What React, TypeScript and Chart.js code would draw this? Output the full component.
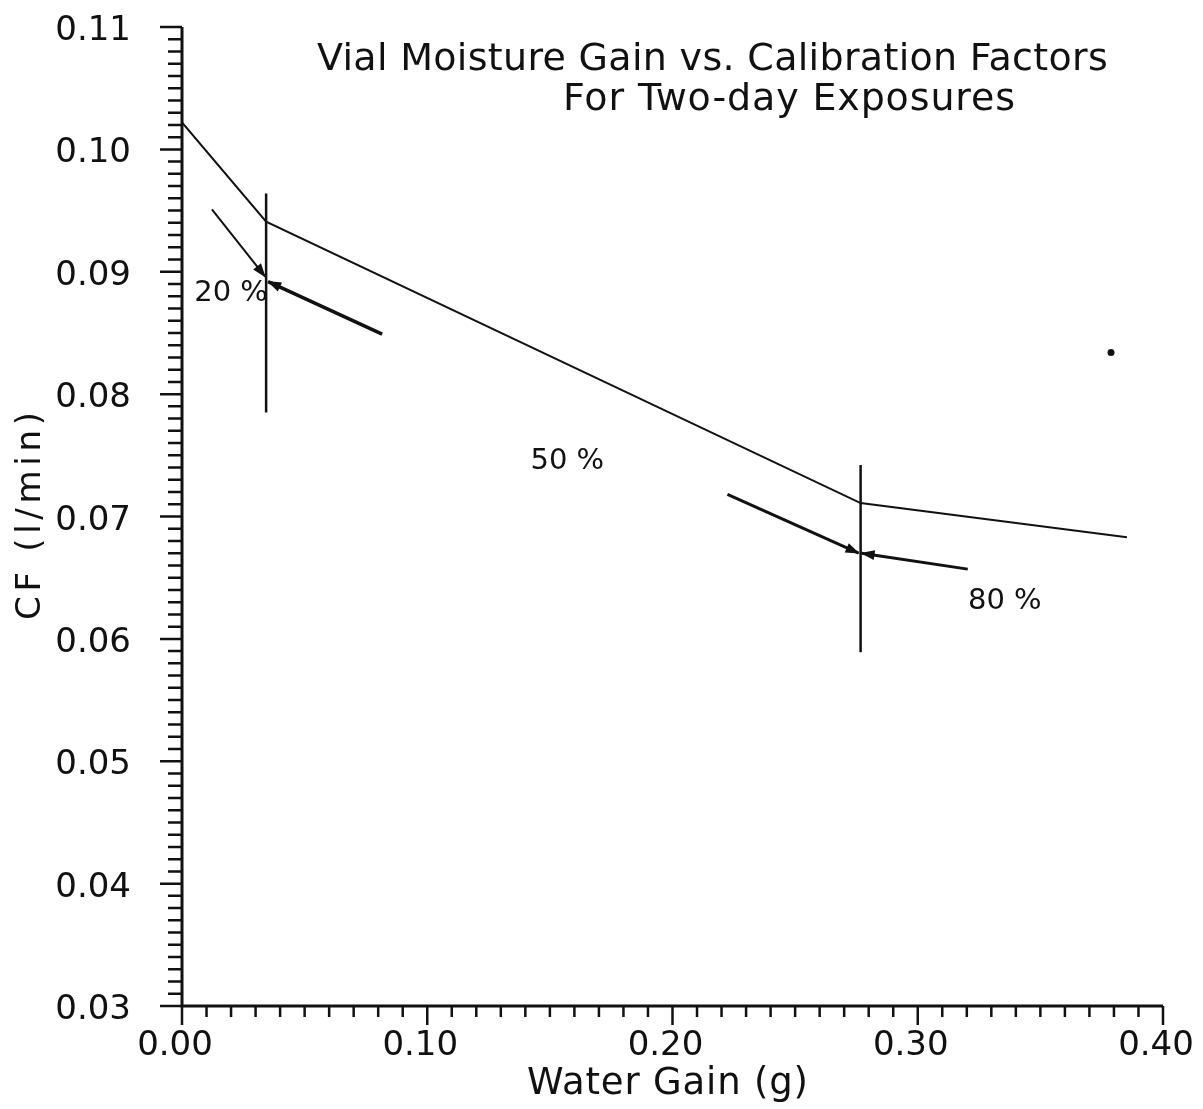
import React, { useEffect, useRef } from "react";
import { Chart, registerables } from "chart.js";

Chart.register(...registerables);

// ---- data ----
const curveX = [0, 0.0343, 0.2767, 0.3853];
const curveY = [0.1022, 0.0941, 0.0711, 0.0683];

const errBarX = [0.0343, 0.2767];
const errBarLow = [0.0785, 0.0589];
const errBarHigh = [0.0964, 0.0742];

const arrowFromX = [0.0122, 0.0816, 0.2224, 0.3204];
const arrowFromY = [0.0951, 0.0849, 0.0718, 0.0657];
const arrowToX = [0.0339, 0.0351, 0.2759, 0.2771];
const arrowToY = [0.0896, 0.0892, 0.067, 0.067];

const rhLabels = ["20 %", "50 %", "80 %"];
const rhLabelX = [0.02, 0.1571, 0.3355];
const rhLabelY = [0.0885, 0.0747, 0.0633];

const dotX = [0.3788];
const dotY = [0.0834];

const xTickValues = [0, 0.1, 0.2, 0.3, 0.4];
const xTickLabels = ["0.00", "0.10", "0.20", "0.30", "0.40"];
const yTickValues = [0.03, 0.04, 0.05, 0.06, 0.07, 0.08, 0.09, 0.1, 0.11];
const yTickLabels = ["0.03", "0.04", "0.05", "0.06", "0.07", "0.08", "0.09", "0.10", "0.11"];

const titleLines = ["Vial Moisture Gain vs. Calibration Factors", "For Two-day Exposures"];
const xTitle = "Water Gain (g)";
const yTitle = "CF (l/min)";

// ---- styles ----
const INK = "#111";
const FONT = '"DejaVu Sans", sans-serif';
const arrowLineWidths = [2, 3.5, 3, 3];

function drawSpaced(ctx: CanvasRenderingContext2D, text: string, x: number, y: number, targetWidth: number) {
  ctx.save();
  const w = ctx.measureText(text).width;
  const n = Math.max(1, text.length - 1);
  const sp = (targetWidth - w) / n;
  (ctx as any).letterSpacing = sp.toFixed(2) + "px";
  ctx.textAlign = "left";
  ctx.fillText(text, x, y);
  ctx.restore();
}

const decorPlugin = {
  id: "decor",
  afterDatasetsDraw(chart: any) {
    const ctx: CanvasRenderingContext2D = chart.ctx;
    const xs = chart.scales.x;
    const ys = chart.scales.y;
    ctx.save();
    ctx.fillStyle = INK;
    for (let i = 0; i < arrowFromX.length; i++) {
      const x0 = xs.getPixelForValue(arrowFromX[i]);
      const y0 = ys.getPixelForValue(arrowFromY[i]);
      const x1 = xs.getPixelForValue(arrowToX[i]);
      const y1 = ys.getPixelForValue(arrowToY[i]);
      const a = Math.atan2(y1 - y0, x1 - x0);
      const L = 13;
      const W = 5;
      const c = Math.cos(a);
      const s = Math.sin(a);
      ctx.beginPath();
      ctx.moveTo(x1 + c * 1, y1 + s * 1);
      ctx.lineTo(x1 - L * c + W * s, y1 - L * s - W * c);
      ctx.lineTo(x1 - L * c - W * s, y1 - L * s + W * c);
      ctx.closePath();
      ctx.fill();
    }
    // labels
    ctx.font = `29px ${FONT}`;
    ctx.textAlign = "center";
    ctx.textBaseline = "alphabetic";
    for (let i = 0; i < rhLabels.length; i++) {
      const px = xs.getPixelForValue(rhLabelX[i]);
      const py = ys.getPixelForValue(rhLabelY[i]);
      ctx.fillText(rhLabels[i], px, py + 10.5);
    }
    ctx.restore();
  },
  afterDraw(chart: any) {
    const ctx: CanvasRenderingContext2D = chart.ctx;
    const xs = chart.scales.x;
    const ys = chart.scales.y;
    const ca = chart.chartArea;
    ctx.save();
    ctx.strokeStyle = INK;
    ctx.fillStyle = INK;
    ctx.lineCap = "butt";
    // axis lines
    ctx.lineWidth = 3;
    ctx.beginPath();
    ctx.moveTo(ca.left, ca.top);
    ctx.lineTo(ca.left, ca.bottom + 1.5);
    ctx.moveTo(ca.left - 1.5, ca.bottom);
    ctx.lineTo(ca.right, ca.bottom);
    ctx.stroke();
    // y ticks
    ctx.lineWidth = 2.5;
    ctx.beginPath();
    for (let i = 30; i <= 110; i++) {
      const py = ys.getPixelForValue(i / 1000);
      const len = i % 10 === 0 ? 22 : 14;
      ctx.moveTo(ca.left - len, py);
      ctx.lineTo(ca.left, py);
    }
    // x ticks
    for (let i = 0; i <= 40; i++) {
      const px = xs.getPixelForValue(i / 100);
      const len = i % 10 === 0 ? 19 : 11;
      ctx.moveTo(px, ca.bottom);
      ctx.lineTo(px, ca.bottom + len);
    }
    ctx.stroke();
    // tick labels
    ctx.font = `34px ${FONT}`;
    ctx.textBaseline = "alphabetic";
    ctx.textAlign = "right";
    for (let i = 0; i < yTickValues.length; i++) {
      const py = ys.getPixelForValue(yTickValues[i]);
      ctx.fillText(yTickLabels[i], ca.left - 51, py + 13);
    }
    ctx.textAlign = "center";
    for (let i = 0; i < xTickValues.length; i++) {
      const px = xs.getPixelForValue(xTickValues[i]);
      ctx.fillText(xTickLabels[i], px - 7, ca.bottom + 49);
    }
    // title
    ctx.font = `38px ${FONT}`;
    drawSpaced(ctx, titleLines[0], 317, 70, 791);
    drawSpaced(ctx, titleLines[1], 563, 110, 452);
    // x title
    ctx.font = `37px ${FONT}`;
    drawSpaced(ctx, xTitle, 527, 1094, 281);
    // y title
    ctx.save();
    ctx.font = `34px ${FONT}`;
    ctx.translate(40, 620);
    ctx.rotate(-Math.PI / 2);
    drawSpaced(ctx, yTitle, 0, 0, 208);
    ctx.restore();
    ctx.restore();
  },
};

export default function App() {
  const ref = useRef<HTMLCanvasElement | null>(null);

  useEffect(() => {
    if (!ref.current) return;
    const pts = (xa: number[], ya: number[]) => xa.map((x, i) => ({ x, y: ya[i] }));
    const lineDs = (data: any[], width: number) => ({
      data,
      showLine: true,
      borderColor: INK,
      backgroundColor: INK,
      borderWidth: width,
      pointRadius: 0,
      borderCapStyle: "butt",
      borderJoinStyle: "miter",
      tension: 0,
    });
    const datasets: any[] = [];
    datasets.push(lineDs(pts(curveX, curveY), 2));
    errBarX.forEach((x, i) => {
      datasets.push(lineDs([{ x, y: errBarHigh[i] }, { x, y: errBarLow[i] }], 2.5));
    });
    arrowFromX.forEach((_, i) => {
      datasets.push(
        lineDs(
          [
            { x: arrowFromX[i], y: arrowFromY[i] },
            { x: arrowToX[i], y: arrowToY[i] },
          ],
          arrowLineWidths[i]
        )
      );
    });
    datasets.push({
      data: pts(dotX, dotY),
      showLine: false,
      pointRadius: 3.5,
      pointBackgroundColor: INK,
      pointBorderWidth: 0,
    });

    const chart = new Chart(ref.current, {
      type: "scatter",
      data: { datasets },
      options: {
        animation: false,
        responsive: false,
        devicePixelRatio: 1,
        layout: { padding: { top: 27, right: 40, left: 0, bottom: 0 } },
        plugins: { legend: { display: false }, tooltip: { enabled: false }, title: { display: false } },
        events: [],
        scales: {
          x: {
            type: "linear",
            min: 0,
            max: 0.4,
            grid: { display: false },
            border: { display: false },
            ticks: { display: false },
            afterFit: (s: any) => {
              s.height = 103;
            },
          },
          y: {
            type: "linear",
            min: 0.03,
            max: 0.11,
            grid: { display: false },
            border: { display: false },
            ticks: { display: false },
            afterFit: (s: any) => {
              s.width = 182;
            },
          },
        },
      } as any,
      plugins: [decorPlugin],
    });
    return () => chart.destroy();
  }, []);

  return (
    <div style={{ position: "absolute", left: 0, top: 0, width: 1203, height: 1109, background: "#fff" }}>
      <canvas ref={ref} width={1203} height={1109} style={{ display: "block" }} />
    </div>
  );
}
